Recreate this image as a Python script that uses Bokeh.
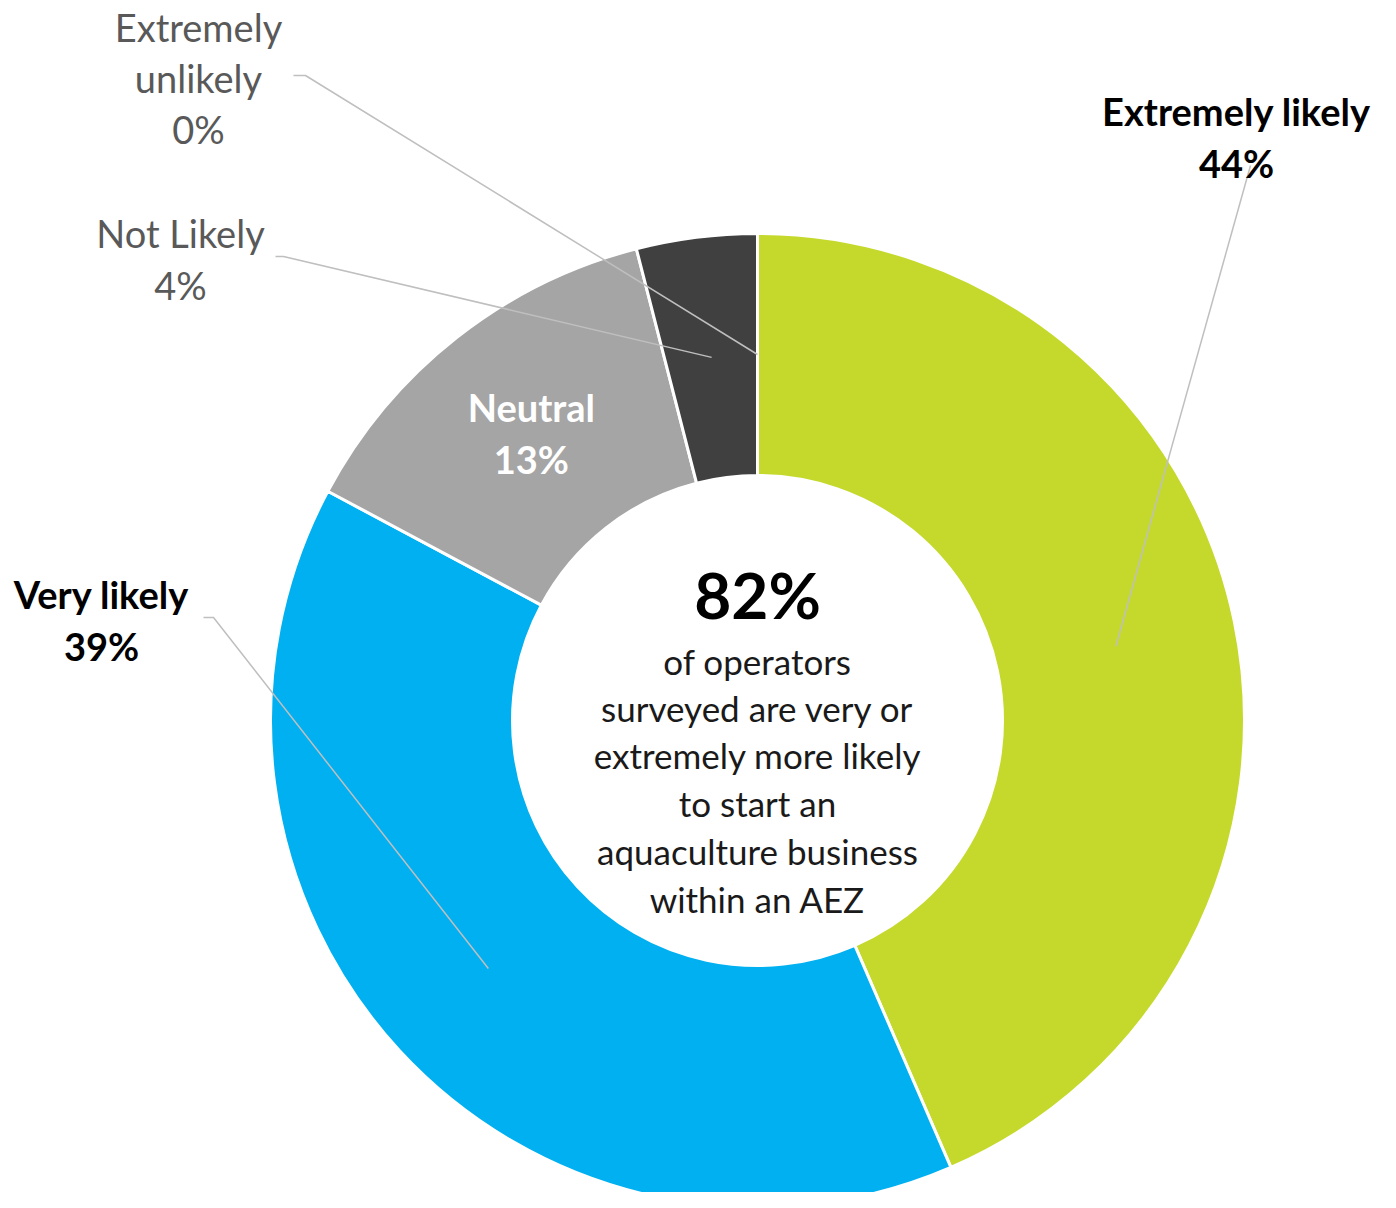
import math
from bokeh.plotting import figure
from bokeh.models import Range1d, ColumnDataSource
from bokeh.core.properties import value
from bokeh.embed import file_html
from bokeh.resources import INLINE

# ---- data ----
categories = ["Extremely likely", "Very likely", "Neutral", "Not Likely", "Extremely unlikely"]
shares = [43.5, 39.3, 13.2, 4.0, 0.0]
pct_labels = ["44%", "39%", "13%", "4%", "0%"]
colors = ["#C5D92D", "#00B0F0", "#A5A5A5", "#404040", "#404040"]
headline = "82%"
center_lines = ["of operators", "surveyed are very or", "extremely more likely",
                "to start an", "aquaculture business", "within an AEZ"]

# ---- layout ----
W, H = 1380, 1192
cx, cy = 757, -720
r_in, r_out = 245, 487
r_mid = (r_in + r_out) / 2

p = figure(width=W, height=H, output_backend="svg", toolbar_location=None,
           x_range=Range1d(0, W), y_range=Range1d(-H, 0),
           min_border=0)
p.axis.visible = False
p.grid.visible = False
p.outline_line_color = None
p.background_fill_color = "white"
p.border_fill_color = "white"

total = sum(shares)
starts, ends, mids = [], [], []
c = 0.0
for s in shares:
    a0 = math.pi / 2 - 2 * math.pi * c / total
    c += s
    a1 = math.pi / 2 - 2 * math.pi * c / total
    starts.append(a0)
    ends.append(a1)
    mids.append((a0 + a1) / 2)

keep = [i for i, s in enumerate(shares) if s > 0]
src = ColumnDataSource(dict(start=[starts[i] for i in keep], end=[ends[i] for i in keep],
                            color=[colors[i] for i in keep], cat=[categories[i] for i in keep]))
p.annular_wedge(x=cx, y=cy, inner_radius=r_in, outer_radius=r_out,
                start_angle="start", end_angle="end", direction="clock",
                fill_color="color", line_color="white", line_width=3, source=src)

def anchor(i):
    return cx + r_mid * math.cos(mids[i]), cy + r_mid * math.sin(mids[i])

label_font = value("Lato")
lead_color = "#BFBFBF"
fs = "38px"

specs = [
    (0, ["Extremely likely", pct_labels[0]], 1236, [-110, -162], "black", "bold", [(1250, -165)]),
    (1, ["Very likely", pct_labels[1]], 101, [-593, -645], "black", "bold", [(203, -617), (213, -617)]),
    (3, ["Not Likely", pct_labels[3]], 180, [-232, -284], "#595959", "normal", [(275, -256), (283, -256)]),
    (4, ["Extremely", "unlikely", pct_labels[4]], 198, [-26, -77, -128], "#595959", "normal", [(293, -75), (305, -75)]),
]
for i, lines, tx, tys, col, style, elbow in specs:
    ax_, ay_ = anchor(i)
    xs = [e[0] for e in elbow] + [ax_]
    ys = [e[1] for e in elbow] + [ay_]
    p.line(xs, ys, line_color=lead_color, line_width=1.5)
    p.text(x=[tx] * len(lines), y=tys, text=lines, text_font=label_font,
           text_font_size=fs, text_font_style=style, text_color=col,
           text_align="center", text_baseline="middle")

nx, ny = anchor(2)
p.text(x=[nx, nx], y=[ny + 26, ny - 26], text=[categories[2], pct_labels[2]],
       text_font=label_font, text_font_size=fs, text_font_style="bold",
       text_color="white", text_align="center", text_baseline="middle")

p.text(x=[cx], y=[-594], text=[headline], text_font=label_font, text_font_size="64px",
       text_font_style="bold", text_color="black", text_align="center", text_baseline="middle")
cys = [-660, -707, -754, -802, -850, -898]
p.text(x=[cx] * len(center_lines), y=cys, text=center_lines, text_font=label_font,
       text_font_size="35px", text_color="#1a1a1a", text_align="center", text_baseline="middle")

open("out.html", "w").write(file_html(p, INLINE))
